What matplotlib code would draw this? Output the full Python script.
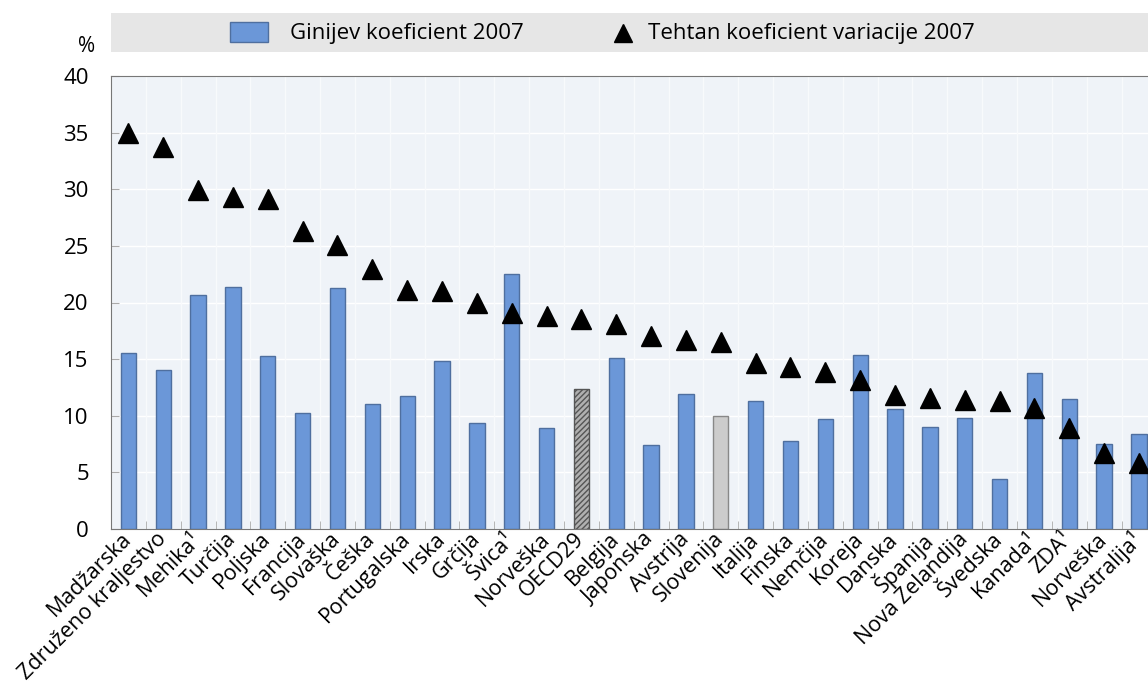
import matplotlib.pyplot as plt
import numpy as np
from matplotlib.patches import Rectangle

plt.rcParams['font.family'] = ['Open Sans', 'DejaVu Sans']
plt.rcParams['hatch.color'] = '#444444'

countries = ['Madžarska', 'Združeno kraljestvo', 'Mehika¹', 'Turčija', 'Poljska',
             'Francija', 'Slovaška', 'Češka', 'Portugalska', 'Irska', 'Grčija',
             'Švica¹', 'Norveška', 'OECD29', 'Belgija', 'Japonska', 'Avstrija',
             'Slovenija', 'Italija', 'Finska', 'Nemčija', 'Koreja', 'Danska',
             'Španija', 'Nova Zelandija', 'Švedska', 'Kanada¹', 'ZDA¹',
             'Norveška', 'Avstralija¹']
gini = [15.5, 14.0, 20.7, 21.4, 15.3, 10.2, 21.3, 11.0, 11.7, 14.8, 9.4,
        22.5, 8.9, 12.4, 15.1, 7.4, 11.9, 10.0, 11.3, 7.8, 9.7, 15.4, 10.6,
        9.0, 9.8, 4.4, 13.8, 11.5, 7.5, 8.4]
cv = [35.0, 33.7, 29.9, 29.3, 29.1, 26.3, 25.1, 23.0, 21.1, 21.0, 20.0,
      19.1, 18.8, 18.5, 18.1, 17.0, 16.7, 16.5, 14.7, 14.3, 13.9, 13.2, 11.8,
      11.6, 11.4, 11.3, 10.7, 8.9, 6.7, 5.8]

blue = '#6b97d8'
blue_edge = '#4f6f9f'

fig = plt.figure(figsize=(11.48, 6.93), dpi=100)
ax = fig.add_axes([111 / 1148, 1 - 529 / 693, (1148 - 111) / 1148, (529 - 76) / 693])
ax.set_facecolor('#eff3f8')

x = np.arange(len(countries))
colors = [blue] * len(countries)
edges = [blue_edge] * len(countries)
i_oecd = countries.index('OECD29')
i_slo = countries.index('Slovenija')
colors[i_oecd] = '#b0b0b0'
edges[i_oecd] = '#555555'
colors[i_slo] = '#cccccc'
edges[i_slo] = '#888888'

bars = ax.bar(x, gini, width=0.44, color=colors, edgecolor=edges, linewidth=1, zorder=2)
bars[i_oecd].set_hatch('//////')
ax.plot(x, cv, linestyle='none', marker='^', markersize=14, color='black', zorder=3)

ax.set_ylim(0, 40)
ax.set_xlim(-0.5, 29.26)
ax.set_yticks(range(0, 41, 5))
ax.set_yticklabels([str(v) for v in range(0, 41, 5)], fontsize=16)
for v in range(5, 40, 5):
    ax.axhline(v, color='white', linewidth=1, zorder=1)
for b in np.arange(0.5, 29, 1):
    ax.axvline(b, color='#f8fafc', linewidth=1, zorder=1)

ax.set_xticks(x)
ax.set_xticklabels(countries, rotation=45, ha='right', va='center',
                   rotation_mode='anchor', fontsize=15.5)
ax.tick_params(axis='x', length=0, pad=5)
ax.set_xticks(np.arange(0.5, 29, 1), minor=True)
ax.tick_params(axis='x', which='minor', direction='in', length=6, color='#aaaaaa')
ax.tick_params(axis='y', direction='in', length=6, color='#aaaaaa', pad=16)

for s in ['left', 'bottom', 'top']:
    ax.spines[s].set_color('#777777')
ax.spines['right'].set_visible(False)

fig.text(78 / 1148, 1 - 46 / 693, '%', fontsize=15, ha='left', va='center')

# legend band
fig.patches.append(Rectangle((111 / 1148, 1 - 52 / 693), 1 - 111 / 1148, 39 / 693,
                             transform=fig.transFigure, facecolor='#e6e6e6',
                             edgecolor='none', zorder=0))
fig.patches.append(Rectangle((230 / 1148, 1 - 42 / 693), 38 / 1148, 20 / 693,
                             transform=fig.transFigure, facecolor=blue,
                             edgecolor=blue_edge, linewidth=1, zorder=1))
fig.text(290 / 1148, 1 - 33 / 693, 'Ginijev koeficient 2007', fontsize=16, va='center')
fig.lines.append(plt.Line2D([623 / 1148], [1 - 33 / 693], transform=fig.transFigure,
                            marker='^', markersize=13, color='black', linestyle='none'))
fig.text(648 / 1148, 1 - 33 / 693, 'Tehtan koeficient variacije 2007', fontsize=16, va='center')

fig.savefig('out.png', dpi=100)
